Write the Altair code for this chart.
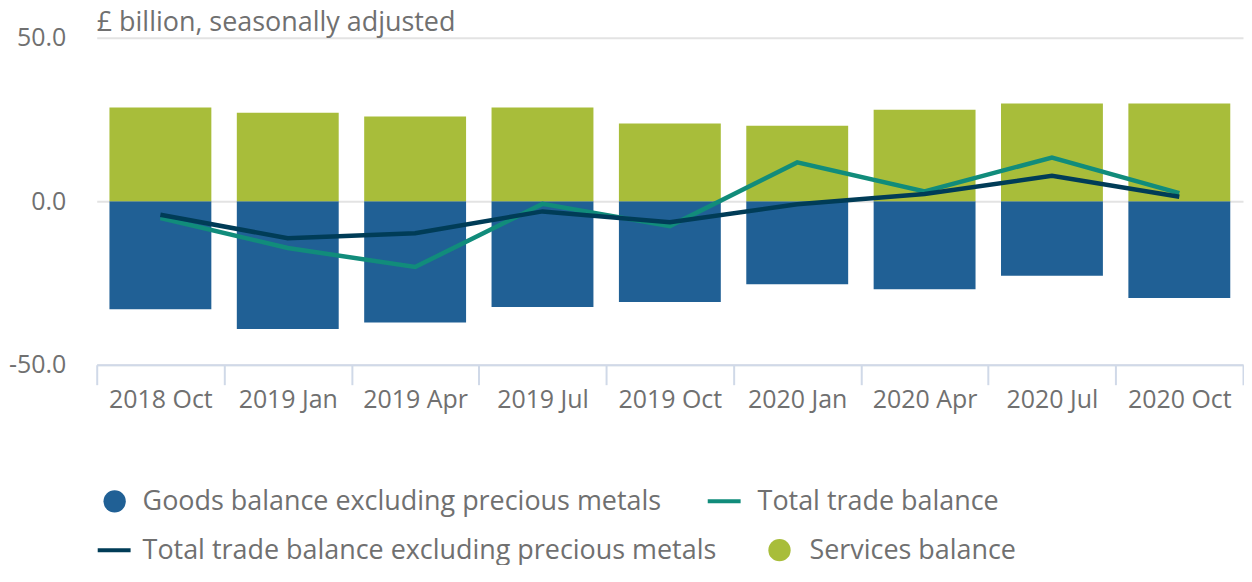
import altair as alt
import pandas as pd

quarters = ["2018 Oct", "2019 Jan", "2019 Apr", "2019 Jul", "2019 Oct",
            "2020 Jan", "2020 Apr", "2020 Jul", "2020 Oct"]
goods = [-33.0, -39.1, -37.1, -32.3, -30.8, -25.4, -26.9, -22.8, -29.6]
services = [28.7, 27.1, 25.9, 28.7, 23.8, 23.1, 28.0, 29.9, 29.9]
total = [-5.1, -14.3, -20.1, -0.8, -7.6, 11.9, 3.0, 13.4, 2.5]
total_ex = [-4.1, -11.3, -9.8, -3.1, -6.4, -0.9, 2.2, 7.8, 1.4]

S_GOODS = "Goods balance excluding precious metals"
S_TOTAL = "Total trade balance"
S_TOTEX = "Total trade balance excluding precious metals"
S_SERV = "Services balance"
series_order = [S_GOODS, S_TOTAL, S_TOTEX, S_SERV]
series_colors = ["#206095", "#118C7B", "#003C57", "#A8BD3A"]
series_kind = ["circle", "line", "line", "circle"]

bars = pd.DataFrame({
    "quarter": quarters * 2,
    "series": [S_GOODS] * len(quarters) + [S_SERV] * len(quarters),
    "value": goods + services,
})
lines = pd.DataFrame({
    "quarter": quarters * 2,
    "series": [S_TOTAL] * len(quarters) + [S_TOTEX] * len(quarters),
    "value": total + total_ex,
})

FONT = "Open Sans"
GREY = "#707070"
color_scale = alt.Scale(domain=series_order, range=series_colors)

x_enc = alt.X("quarter:N", sort=quarters, title=None,
              scale=alt.Scale(paddingInner=0, paddingOuter=0),
              axis=alt.Axis(labelAngle=0, labelFontSize=25, labelColor=GREY,
                            labelFont=FONT, labelPadding=3,
                            domainColor="#d0d9e8", domainWidth=2,
                            tickColor="#d0d9e8", tickWidth=2, tickSize=20,
                            tickBand="extent", grid=False))
y_scale = alt.Scale(domain=[-50, 50], nice=False)
y_axis = alt.Axis(values=[-50, 0, 50],
                  labelExpr="replace(format(datum.value, '.1f'), '\u2212', '-')",
                  labelFontSize=25, labelColor=GREY, labelFont=FONT, ticks=False,
                  domain=False, labelPadding=31, minExtent=84, maxExtent=84,
                  gridColor="#e3e3e3", gridWidth=2)

bar_layer = alt.Chart(bars).mark_bar(width=alt.RelativeBandSize(0.8)).encode(
    x=x_enc,
    y=alt.Y("value:Q", scale=y_scale, axis=y_axis, title=None, stack=True),
    color=alt.Color("series:N", scale=color_scale, legend=None),
)

line_layer = alt.Chart(lines).mark_line(strokeWidth=4.5).encode(
    x=alt.X("quarter:N", sort=quarters),
    y=alt.Y("value:Q"),
    color=alt.Color("series:N", scale=color_scale, legend=None),
    detail="series:N",
)

# hand-built legend (two rows, flowing like the original), pixel layout in plot coordinates
LEG_ROW_Y = [465, 465, 514, 514]
LEG_SYM_X = [18, 613, 1, 685]      # circle centre, or line start
LEG_LINE_LEN = 33
LEG_TEXT_X = [46, 663, 46, 715]

legend_layers = []
for i, name in enumerate(series_order):
    item = pd.DataFrame({"series": [name]})
    base = alt.Chart(item)
    if series_kind[i] == "circle":
        sym = base.mark_point(filled=True, shape="circle", size=500, opacity=1).encode(
            x=alt.value(LEG_SYM_X[i]), y=alt.value(LEG_ROW_Y[i]),
            color=alt.value(series_colors[i]))
    else:
        sym = base.mark_rule(strokeWidth=4).encode(
            x=alt.value(LEG_SYM_X[i]), x2=alt.value(LEG_SYM_X[i] + LEG_LINE_LEN),
            y=alt.value(LEG_ROW_Y[i]), color=alt.value(series_colors[i]))
    txt = base.mark_text(align="left", baseline="middle", fontSize=27, font=FONT,
                         color=GREY).encode(
        x=alt.value(LEG_TEXT_X[i]), y=alt.value(LEG_ROW_Y[i] + 1), text="series:N")
    legend_layers += [sym, txt]

chart = alt.layer(bar_layer, line_layer, *legend_layers).properties(
    width=1150, height=328, padding=0,
    title=alt.TitleParams("£ billion, seasonally adjusted", anchor="start", frame="group",
                          fontSize=27, fontWeight="normal", color=GREY,
                          font=FONT, offset=-11),
).configure_view(stroke=None)

chart.save("out.html", embed_options={"renderer": "svg", "actions": False})
